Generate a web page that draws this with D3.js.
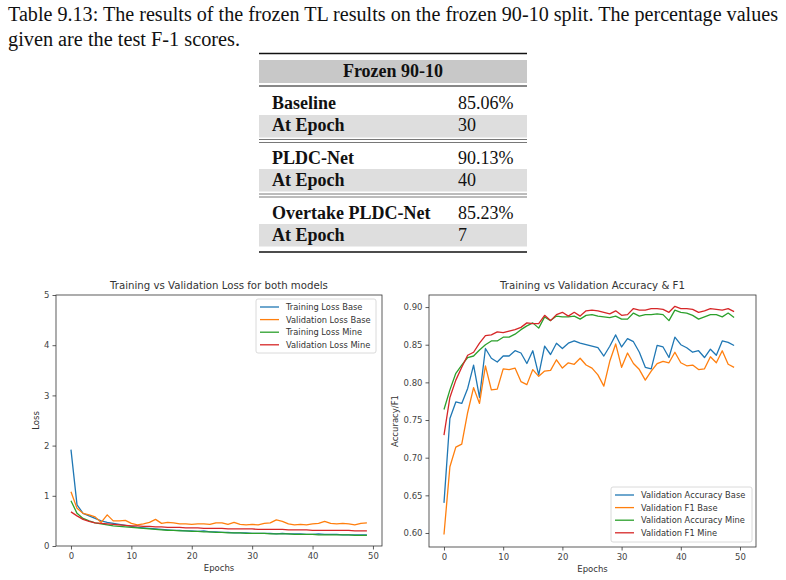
<!DOCTYPE html>
<html>
<head>
<meta charset="utf-8">
<script src="https://cdn.jsdelivr.net/npm/d3@7"></script>
<style>
  body { margin: 0; background: #fff; }
  svg { display: block; }
  .serif { font-family: "Liberation Serif", "Times New Roman", serif; fill: #111; }
  .mpl { font-family: "DejaVu Sans", sans-serif; fill: #333; }
  .axis path, .axis line { stroke: #333; stroke-width: 0.8; }
  .axis text { font-family: "DejaVu Sans", sans-serif; font-size: 8.5px; fill: #444; }
</style>
</head>
<body>
<div id="page"></div>
<script>
var W = 786, H = 580;

// table content
var tableHeader = "Frozen 90-10";
var tableLabels = ["Baseline", "At Epoch", "PLDC-Net", "At Epoch", "Overtake PLDC-Net", "At Epoch"];
var tableValues = ["85.06%", "30", "90.13%", "40", "85.23%", "7"];

// loss chart
var lossNames = ["Training Loss Base", "Validation Loss Base", "Training Loss Mine", "Validation Loss Mine"];
var trainLossBase = [1.92, 0.82, 0.65, 0.60, 0.55, 0.50, 0.47, 0.45, 0.43, 0.41, 0.39, 0.37, 0.36, 0.35, 0.34, 0.33, 0.32, 0.31, 0.31, 0.30,
  0.30, 0.29, 0.30, 0.28, 0.28, 0.27, 0.27, 0.26, 0.26, 0.26, 0.25, 0.25, 0.25, 0.25, 0.24, 0.25, 0.24, 0.24, 0.24, 0.23,
  0.23, 0.24, 0.23, 0.23, 0.23, 0.22, 0.22, 0.22, 0.22, 0.22];
var valLossBase = [1.08, 0.75, 0.65, 0.62, 0.58, 0.47, 0.62, 0.50, 0.50, 0.51, 0.45, 0.42, 0.44, 0.47, 0.53, 0.45, 0.47, 0.46, 0.44, 0.44,
  0.43, 0.44, 0.44, 0.43, 0.46, 0.46, 0.43, 0.47, 0.43, 0.42, 0.43, 0.42, 0.45, 0.46, 0.52, 0.49, 0.44, 0.42, 0.43, 0.42,
  0.44, 0.45, 0.49, 0.45, 0.44, 0.45, 0.44, 0.42, 0.45, 0.46];
var trainLossMine = [0.90, 0.65, 0.55, 0.50, 0.46, 0.44, 0.42, 0.40, 0.39, 0.38, 0.37, 0.36, 0.35, 0.34, 0.33, 0.32, 0.31, 0.31, 0.30, 0.30,
  0.29, 0.29, 0.28, 0.28, 0.27, 0.27, 0.26, 0.26, 0.26, 0.25, 0.25, 0.25, 0.25, 0.24, 0.24, 0.24, 0.24, 0.23, 0.23, 0.23,
  0.23, 0.22, 0.22, 0.22, 0.22, 0.22, 0.22, 0.21, 0.21, 0.21];
var valLossMine = [0.68, 0.60, 0.53, 0.49, 0.46, 0.45, 0.44, 0.43, 0.42, 0.41, 0.40, 0.40, 0.39, 0.39, 0.38, 0.38, 0.37, 0.37, 0.37, 0.36,
  0.36, 0.36, 0.35, 0.35, 0.35, 0.35, 0.34, 0.34, 0.34, 0.34, 0.34, 0.33, 0.33, 0.33, 0.33, 0.33, 0.32, 0.32, 0.32, 0.32,
  0.31, 0.31, 0.31, 0.31, 0.31, 0.31, 0.31, 0.30, 0.30, 0.30];
var lossTicks = [0, 1, 2, 3, 4, 5];

// accuracy chart
var accNames = ["Validation Accuracy Base", "Validation F1 Base", "Validation Accuracy Mine", "Validation F1 Mine"];
var valAccBase = [0.640, 0.752, 0.774, 0.772, 0.792, 0.823, 0.780, 0.845, 0.832, 0.827, 0.835, 0.835, 0.842, 0.839, 0.825, 0.842, 0.810, 0.848, 0.837, 0.852,
  0.845, 0.852, 0.855, 0.852, 0.850, 0.848, 0.846, 0.835, 0.848, 0.863, 0.847, 0.858, 0.854, 0.840, 0.820, 0.818, 0.849, 0.847, 0.833, 0.860,
  0.850, 0.846, 0.840, 0.842, 0.833, 0.844, 0.836, 0.855, 0.853, 0.849];
var valF1Base = [0.598, 0.688, 0.714, 0.718, 0.760, 0.793, 0.772, 0.822, 0.790, 0.791, 0.818, 0.817, 0.819, 0.801, 0.797, 0.817, 0.808, 0.815, 0.816, 0.830,
  0.819, 0.826, 0.824, 0.832, 0.823, 0.819, 0.810, 0.795, 0.828, 0.851, 0.820, 0.839, 0.825, 0.817, 0.803, 0.815, 0.825, 0.828, 0.826, 0.840,
  0.826, 0.822, 0.823, 0.817, 0.818, 0.834, 0.826, 0.842, 0.824, 0.820];
var valAccMine = [0.764, 0.790, 0.812, 0.823, 0.833, 0.835, 0.843, 0.850, 0.855, 0.855, 0.860, 0.860, 0.864, 0.870, 0.875, 0.879, 0.872, 0.887, 0.882, 0.888,
  0.887, 0.887, 0.888, 0.884, 0.889, 0.890, 0.888, 0.887, 0.886, 0.888, 0.884, 0.884, 0.892, 0.888, 0.890, 0.890, 0.891, 0.890, 0.882, 0.896,
  0.893, 0.892, 0.889, 0.884, 0.887, 0.890, 0.890, 0.887, 0.892, 0.886];
var valF1Mine = [0.730, 0.780, 0.803, 0.820, 0.836, 0.840, 0.852, 0.862, 0.863, 0.867, 0.866, 0.868, 0.870, 0.873, 0.879, 0.878, 0.878, 0.889, 0.882, 0.890,
  0.893, 0.888, 0.893, 0.888, 0.895, 0.896, 0.895, 0.893, 0.891, 0.895, 0.889, 0.890, 0.898, 0.896, 0.896, 0.898, 0.898, 0.897, 0.893, 0.901,
  0.898, 0.898, 0.897, 0.893, 0.895, 0.898, 0.897, 0.896, 0.898, 0.894];
var accTicks = [0.60, 0.65, 0.70, 0.75, 0.80, 0.85, 0.90];

var epochTicks = [0, 10, 20, 30, 40, 50];
var colors = ["#1f77b4", "#ff7f0e", "#2ca02c", "#d62728"];

var svg = d3.select("#page").append("svg")
    .attr("width", W)
    .attr("height", H);

// caption
svg.append("text").attr("class", "serif")
    .attr("x", 8).attr("y", 21)
    .attr("font-size", 20)
    .attr("textLength", 770).attr("lengthAdjust", "spacingAndGlyphs")
    .text("Table 9.13: The results of the frozen TL results on the frozen 90-10 split. The percentage values");
svg.append("text").attr("class", "serif")
    .attr("x", 8).attr("y", 46)
    .attr("font-size", 20)
    .attr("textLength", 232).attr("lengthAdjust", "spacingAndGlyphs")
    .text("given are the test F-1 scores.");

// table
var tx0 = 259, tx1 = 527;
var tbl = svg.append("g");
tbl.append("rect").attr("x", tx0).attr("y", 60).attr("width", tx1 - tx0).attr("height", 23).attr("fill", "#c8c8c8");
[115, 169, 224].forEach(function(y) {
    tbl.append("rect").attr("x", tx0).attr("y", y).attr("width", tx1 - tx0).attr("height", 22.5).attr("fill", "#dedede");
});
function rule(y, w, c) {
    tbl.append("line").attr("x1", tx0).attr("x2", tx1).attr("y1", y).attr("y2", y)
        .attr("stroke", c || "#111").attr("stroke-width", w);
}
rule(53.5, 1.4); rule(86, 1);
rule(139.5, 0.8, "#555"); rule(142.5, 0.8, "#555");
rule(194, 0.8, "#555"); rule(197, 0.8, "#555");
rule(252, 1.4);

tbl.append("text").attr("class", "serif")
    .attr("x", (tx0 + tx1) / 2).attr("y", 77)
    .attr("text-anchor", "middle").attr("font-size", 18).attr("font-weight", "bold")
    .text(tableHeader);
var rowY = [109, 131, 164, 186, 219, 241];
tableLabels.forEach(function(t, i) {
    tbl.append("text").attr("class", "serif")
        .attr("x", 272).attr("y", rowY[i])
        .attr("font-size", 18).attr("font-weight", "bold")
        .text(t);
    tbl.append("text").attr("class", "serif")
        .attr("x", 458).attr("y", rowY[i])
        .attr("font-size", 18)
        .text(tableValues[i]);
});

// draw one matplotlib-like panel
function panel(opt) {
    var x = d3.scaleLinear().domain(opt.xDomain).range([opt.left, opt.right]);
    var y = d3.scaleLinear().domain(opt.yDomain).range([opt.bottom, opt.top]);
    var g = svg.append("g");

    var line = d3.line()
        .x(function(d, i) { return x(i); })
        .y(function(d) { return y(d); });

    var clipId = "clip" + opt.id;
    g.append("clipPath").attr("id", clipId).append("rect")
        .attr("x", opt.left).attr("y", opt.top)
        .attr("width", opt.right - opt.left).attr("height", opt.bottom - opt.top);

    g.append("g").attr("clip-path", "url(#" + clipId + ")")
        .selectAll("path")
        .data(opt.series)
        .join("path")
        .attr("d", line)
        .attr("fill", "none")
        .attr("stroke", function(d, i) { return colors[i]; })
        .attr("stroke-width", 1.3)
        .attr("stroke-linejoin", "round");

    g.append("g").attr("class", "axis")
        .attr("transform", "translate(0," + opt.bottom + ")")
        .call(d3.axisBottom(x).tickValues(epochTicks).tickSize(3.5).tickPadding(3).tickSizeOuter(0))
        .call(function(s) { s.select(".domain").remove(); });
    g.append("g").attr("class", "axis")
        .attr("transform", "translate(" + opt.left + ",0)")
        .call(d3.axisLeft(y).tickValues(opt.yTicks).tickFormat(opt.yFormat).tickSize(3.5).tickPadding(3).tickSizeOuter(0))
        .call(function(s) { s.select(".domain").remove(); });

    // spines
    g.append("rect")
        .attr("x", opt.left).attr("y", opt.top)
        .attr("width", opt.right - opt.left).attr("height", opt.bottom - opt.top)
        .attr("fill", "none").attr("stroke", "#333").attr("stroke-width", 0.8);

    g.append("text").attr("class", "mpl")
        .attr("x", (opt.left + opt.right) / 2).attr("y", opt.top - 6)
        .attr("text-anchor", "middle").attr("font-size", 10.2)
        .text(opt.title);
    g.append("text").attr("class", "mpl")
        .attr("x", (opt.left + opt.right) / 2).attr("y", opt.bottom + 25)
        .attr("text-anchor", "middle").attr("font-size", 8.5)
        .text("Epochs");
    g.append("text").attr("class", "mpl")
        .attr("transform", "translate(" + opt.ylabelX + "," + ((opt.top + opt.bottom) / 2) + ") rotate(-90)")
        .attr("text-anchor", "middle").attr("font-size", 8.5)
        .text(opt.ylabel);

    // legend
    var L = opt.legend;
    var lg = g.append("g");
    lg.append("rect")
        .attr("x", L.x).attr("y", L.y).attr("width", L.w).attr("height", L.h)
        .attr("rx", 2).attr("fill", "#fff").attr("fill-opacity", 0.8)
        .attr("stroke", "#d0d0d0").attr("stroke-width", 0.8);
    opt.names.forEach(function(n, i) {
        var yy = L.y + 8 + i * 12.6;
        lg.append("line")
            .attr("x1", L.x + 4).attr("x2", L.x + 23)
            .attr("y1", yy).attr("y2", yy)
            .attr("stroke", colors[i]).attr("stroke-width", 1.3);
        lg.append("text").attr("class", "mpl")
            .attr("x", L.x + 30).attr("y", yy + 3)
            .attr("font-size", 8.3)
            .text(n);
    });
}

panel({
    id: 1,
    left: 56, right: 382, top: 295, bottom: 546,
    xDomain: [-2.48, 51.5], yDomain: [0, 5],
    yTicks: lossTicks, yFormat: d3.format("d"),
    series: [trainLossBase, valLossBase, trainLossMine, valLossMine],
    names: lossNames,
    title: "Training vs Validation Loss for both models",
    ylabel: "Loss", ylabelX: 39,
    legend: { x: 256, y: 299, w: 120, h: 54 }
});

panel({
    id: 2,
    left: 429, right: 756, top: 295, bottom: 547,
    xDomain: [-2.53, 52.7], yDomain: [0.5814, 0.916],
    yTicks: accTicks, yFormat: d3.format(".2f"),
    series: [valAccBase, valF1Base, valAccMine, valF1Mine],
    names: accNames,
    title: "Training vs Validation Accuracy & F1",
    ylabel: "Accuracy/F1", ylabelX: 398,
    legend: { x: 611, y: 487, w: 141, h: 55 }
});
</script>
</body>
</html>
